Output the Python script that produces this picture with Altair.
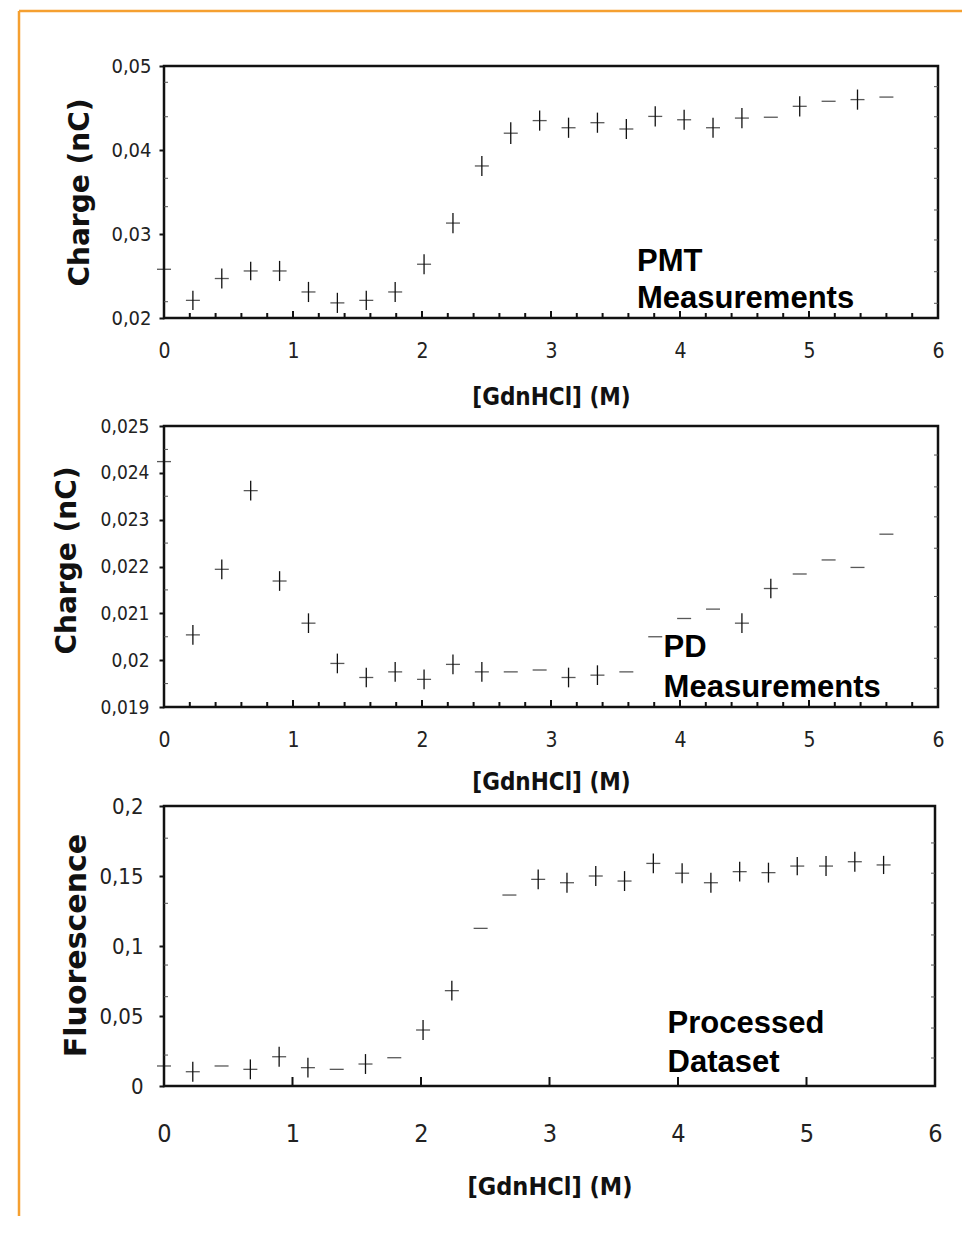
import altair as alt
import pandas as pd

# ---------------- data ----------------
x_m = [0.0, 0.224, 0.448, 0.672, 0.896, 1.12, 1.344, 1.568, 1.792, 2.016, 2.24, 2.464, 2.688,
       2.912, 3.136, 3.36, 3.584, 3.808, 4.032, 4.256, 4.48, 4.704, 4.928, 5.152, 5.376, 5.6]

pmt_charge = [0.0258, 0.0221, 0.0247, 0.0256, 0.0256, 0.0231, 0.0218, 0.0221, 0.0231, 0.0264,
              0.0313, 0.0381, 0.0420, 0.0435, 0.04265, 0.04325, 0.0425, 0.0440, 0.0436, 0.04265,
              0.0438, 0.0439, 0.0452, 0.0458, 0.0460, 0.0463]
pmt_err = [0.0, 0.00115, 0.0012, 0.0011, 0.0012, 0.0012, 0.0012, 0.00115, 0.0012, 0.0012,
           0.0012, 0.0012, 0.0013, 0.0012, 0.0012, 0.0012, 0.0012, 0.0012, 0.0012, 0.0012,
           0.0012, 0.0, 0.0012, 0.0, 0.0012, 0.0]

pd_charge = [0.02424, 0.02054, 0.02194, 0.02362, 0.02169, 0.02079, 0.01993, 0.01963, 0.01975,
             0.01959, 0.01991, 0.01975, 0.01975, 0.01979, 0.01963, 0.01968, 0.01975, 0.0205,
             0.02089, 0.02109, 0.02079, 0.02153, 0.02184, 0.02214, 0.02198, 0.02269]
pd_err = [0.0, 0.00021, 0.00021, 0.00021, 0.00021, 0.00021, 0.00021, 0.00021, 0.00021, 0.00021,
          0.00021, 0.00021, 0.0, 0.0, 0.00021, 0.00021, 0.0, 0.0, 0.0, 0.0,
          0.00021, 0.00021, 0.0, 0.0, 0.0, 0.0]

fluo = [0.0143, 0.0102, 0.0143, 0.0119, 0.0209, 0.0131, 0.0119, 0.0157, 0.0202, 0.040,
        0.0681, 0.1126, 0.1364, 0.1476, 0.1452, 0.150, 0.1464, 0.159, 0.152, 0.1452,
        0.1531, 0.1524, 0.1571, 0.1571, 0.1602, 0.1579]
fluo_err = [0.0, 0.0071, 0.0, 0.0071, 0.0071, 0.0071, 0.0, 0.0071, 0.0, 0.0071,
            0.0071, 0.0, 0.0, 0.0071, 0.0071, 0.0071, 0.0071, 0.0071, 0.0071, 0.0071,
            0.0071, 0.0071, 0.0065, 0.0071, 0.0071, 0.0065]

# tick labels / tick positions
x_labels = [0, 1, 2, 3, 4, 5, 6]
x_minor = [0.2, 0.4, 0.6, 0.8, 1.2, 1.4, 1.6, 1.8, 2.2, 2.4, 2.6, 2.8, 3.2, 3.4, 3.6, 3.8,
           4.2, 4.4, 4.6, 4.8, 5.2, 5.4, 5.6, 5.8]
x_major = [1, 2, 3, 4, 5]

y1_labels = [0.02, 0.03, 0.04, 0.05]
y1_inner_left = [0.02194, 0.03325, 0.03663, 0.04396, 0.04806]
y1_inner_right = [0.02175, 0.02551, 0.02929, 0.03286, 0.03663, 0.0402, 0.04396, 0.04754]

y2_labels = [0.019, 0.02, 0.021, 0.022, 0.023, 0.024, 0.025]
y2_inner_left = [0.0195, 0.0205, 0.0215, 0.0225, 0.0235, 0.0245]
y2_inner_right = [0.0194, 0.02004, 0.02071, 0.02136, 0.02239, 0.02306, 0.0237, 0.02438]

y3_labels = [0, 0.05, 0.1, 0.15, 0.2]
y3_inner_left = [0.0221, 0.0638, 0.0864, 0.1305, 0.177]
y3_inner_right = [0.02, 0.0414, 0.0636, 0.0864, 0.1079, 0.1307, 0.152, 0.1736]

# ---------------- styling ----------------
NARROW = "DejaVu Sans Condensed, Liberation Sans Narrow, Liberation Sans, sans-serif"
WIDE = "DejaVu Sans, Verdana, sans-serif"
ARIAL = "Liberation Sans, Arial, sans-serif"
INK = "#111111"
LAB = "#222222"
ORANGE = "#F5A030"


def make_panel(yvals, errs, ydom, yaxis, xaxis, width, height, inner_left, inner_right,
               minor_x, major_x, minor_len, major_len, note, note_x, note_y, note_lh,
               extra=None):
    df = pd.DataFrame({
        "x": x_m,
        "y": yvals,
        "lo": [v - e for v, e in zip(yvals, errs)],
        "hi": [v + e for v, e in zip(yvals, errs)],
    })

    def xenc(field):
        return alt.X(field, type="quantitative",
                     scale=alt.Scale(domain=[0, 6], nice=False, zero=False), axis=xaxis)

    def yenc(field):
        return alt.Y(field, type="quantitative",
                     scale=alt.Scale(domain=ydom, nice=False, zero=False), axis=yaxis)

    arms = alt.Chart(df).mark_tick(orient="horizontal", size=14, thickness=1.3,
                                   color=INK).encode(x=xenc("x"), y=yenc("y"))
    bars = alt.Chart(df).mark_rule(color=INK, strokeWidth=1.3).encode(
        x=xenc("x"), y=yenc("lo"), y2=alt.Y2("hi"))

    layers = [arms, bars]

    if minor_x:
        layers.append(alt.Chart(pd.DataFrame({"t": minor_x})).mark_rule(
            color=INK, strokeWidth=2).encode(
            x=xenc("t"), y=alt.value(height), y2=alt.value(height - minor_len)))
    layers.append(alt.Chart(pd.DataFrame({"t": major_x})).mark_rule(
        color=INK, strokeWidth=2).encode(
        x=xenc("t"), y=alt.value(height), y2=alt.value(height - major_len)))

    layers.append(alt.Chart(pd.DataFrame({"v": inner_left})).mark_rule(
        color="#555555", strokeWidth=1).encode(
        y=yenc("v"), x=alt.value(0), x2=alt.value(4)))
    layers.append(alt.Chart(pd.DataFrame({"v": inner_right})).mark_rule(
        color="#555555", strokeWidth=1).encode(
        y=yenc("v"), x=alt.value(width), x2=alt.value(width - 4)))

    layers.append(alt.Chart(pd.DataFrame({"x": [note_x], "y": [note_y], "label": [note]}))
                  .mark_text(align="left", baseline="alphabetic", font=ARIAL,
                             fontWeight="bold", fontSize=31, lineHeight=note_lh,
                             lineBreak="\n", color="#000000")
                  .encode(x=xenc("x"), y=yenc("y"), text="label:N"))
    if extra:
        layers.extend(extra)

    return alt.layer(*layers).properties(
        width=width, height=height,
        view=alt.ViewBackground(stroke=INK, strokeWidth=2.5, fill="white"))


def x_axis(label_size, label_pad, title_y, title_size):
    return alt.Axis(values=x_labels, format="d", ticks=False, tickSize=0, domain=False,
                    grid=False, labelFont=NARROW, labelFontSize=label_size, labelColor=LAB,
                    labelPadding=label_pad, labelFlush=False,
                    title="[GdnHCl] (M)", titleFont=NARROW, titleFontWeight="bold",
                    titleFontSize=title_size, titleColor=INK, titleY=title_y,
                    titleBaseline="alphabetic")


def y_axis(values, fmt, label_size, label_pad, title, title_x, title_y, title_size):
    return alt.Axis(values=values,
                    labelExpr="replace(format(datum.value, '" + fmt + "'), '.', ',')",
                    ticks=True, tickSize=5, tickWidth=2, tickColor=INK, domain=False,
                    grid=False, labelFont=NARROW, labelFontSize=label_size, labelColor=LAB,
                    labelPadding=label_pad, labelFlush=False,
                    title=title, titleFont=WIDE, titleFontWeight="bold",
                    titleFontSize=title_size, titleColor=INK, titleX=title_x, titleY=title_y,
                    titleAngle=270, titleBaseline="alphabetic", titleAlign="center")


# orange frame around the figure (decoration, drawn with panel 1)
frame = [
    alt.Chart(pd.DataFrame({"k": [0]})).mark_rule(color=ORANGE, strokeWidth=2.5).encode(
        x=alt.value(-145), x2=alt.value(798), y=alt.value(-55)),
    alt.Chart(pd.DataFrame({"k": [0]})).mark_rule(color=ORANGE, strokeWidth=2.5).encode(
        x=alt.value(-145), y=alt.value(-55), y2=alt.value(1150)),
]

p1 = make_panel(pmt_charge, pmt_err, [0.02, 0.05],
                y_axis(y1_labels, ".2f", 20, 8, "Charge (nC)", -76, 126, 28),
                x_axis(21, 22, 86, 24),
                774, 252, y1_inner_left, y1_inner_right, x_minor, x_major, 5, 7,
                "PMT\nMeasurements", 3.667, 0.02563, 37.6, extra=frame)

p2 = make_panel(pd_charge, pd_err, [0.019, 0.025],
                y_axis(y2_labels, ".3~f", 19, 10, "Charge (nC)", -89, 134, 28),
                x_axis(21, 22, 82, 24),
                774, 281, y2_inner_left, y2_inner_right, x_minor, x_major, 5, 7,
                "PD\nMeasurements", 3.873, 0.02006, 40, )

p3 = make_panel(fluo, fluo_err, [0, 0.2],
                y_axis(y3_labels, ".2~f", 22, 16, "Fluorescence", -79, 139, 30),
                x_axis(25, 35, 108, 25),
                771, 280, y3_inner_left, y3_inner_right, [], x_major, 9, 9,
                "Processed\nDataset", 3.919, 0.0376, 38.4)


def spacer(h):
    return alt.Chart(pd.DataFrame({"s": [0]})).mark_point(opacity=0).encode(
        x=alt.X("s:Q", axis=None), y=alt.Y("s:Q", axis=None)
    ).properties(width=20, height=h, view=alt.ViewBackground(strokeOpacity=0))


chart = alt.vconcat(p1, spacer(108), p2, spacer(99), p3, spacing=0, bounds="flush").properties(
    padding={"left": 8, "top": 0, "right": 0, "bottom": 0},
    background="white",
)

chart.save("out.html", embed_options={"renderer": "svg", "actions": False})
